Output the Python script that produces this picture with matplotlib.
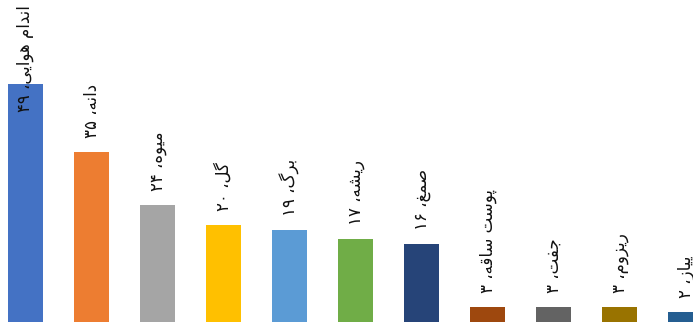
import re
import matplotlib
matplotlib.use("Agg")
import matplotlib.pyplot as plt

# plant parts and number of reports
parts = ["اندام هوایی", "دانه", "میوه", "گل", "برگ", "ریشه", "صمغ",
         "پوست ساقه", "جفت", "ریزوم", "پیاز"]
counts = [49, 35, 24, 20, 19, 17, 16, 3, 3, 3, 2]
colors = ["#4472C4", "#ED7D31", "#A5A5A5", "#FFC000", "#5B9BD5", "#70AD47",
          "#264478", "#9E480E", "#636363", "#997300", "#255E91"]

# arabic presentation forms: isolated, final, initial, medial
FORMS = {
    "ا": (0xFE8D, 0xFE8E), "د": (0xFEA9, 0xFEAA), "ر": (0xFEAD, 0xFEAE),
    "ز": (0xFEAF, 0xFEB0), "و": (0xFEED, 0xFEEE),
    "ب": (0xFE8F, 0xFE90, 0xFE91, 0xFE92), "پ": (0xFB56, 0xFB57, 0xFB58, 0xFB59),
    "ت": (0xFE95, 0xFE96, 0xFE97, 0xFE98), "ج": (0xFE9D, 0xFE9E, 0xFE9F, 0xFEA0),
    "س": (0xFEB1, 0xFEB2, 0xFEB3, 0xFEB4), "ش": (0xFEB5, 0xFEB6, 0xFEB7, 0xFEB8),
    "ص": (0xFEB9, 0xFEBA, 0xFEBB, 0xFEBC), "غ": (0xFECD, 0xFECE, 0xFECF, 0xFED0),
    "ف": (0xFED1, 0xFED2, 0xFED3, 0xFED4), "ق": (0xFED5, 0xFED6, 0xFED7, 0xFED8),
    "گ": (0xFB92, 0xFB93, 0xFB94, 0xFB95), "ل": (0xFEDD, 0xFEDE, 0xFEDF, 0xFEE0),
    "م": (0xFEE1, 0xFEE2, 0xFEE3, 0xFEE4), "ن": (0xFEE5, 0xFEE6, 0xFEE7, 0xFEE8),
    "ه": (0xFEE9, 0xFEEA, 0xFEEB, 0xFEEC), "ی": (0xFBFC, 0xFBFD, 0xFBFE, 0xFBFF),
}


def shape(s):
    out = []
    for i, c in enumerate(s):
        f = FORMS.get(c)
        if f is None:
            out.append(c)
            continue
        prev = s[i - 1] if i > 0 else ""
        nxt = s[i + 1] if i + 1 < len(s) else ""
        jp = prev in FORMS and len(FORMS[prev]) == 4
        jn = len(f) == 4 and nxt in FORMS
        if jp and jn:
            k = 3
        elif jp:
            k = 1
        elif jn:
            k = 2
        else:
            k = 0
        out.append(chr(f[k]))
    vis = "".join(out)[::-1]
    # digits keep left-to-right order
    return re.sub("[۰-۹]+", lambda m: m.group(0)[::-1], vis)


def fa_num(n):
    return str(n).translate(str.maketrans("0123456789", "۰۱۲۳۴۵۶۷۸۹"))


fig = plt.figure(figsize=(6.93, 3.22), dpi=100)
ax = fig.add_axes([0, 0, 1, 1])
ax.axis("off")

xs = range(len(parts))
ax.bar(xs, counts, width=0.53, color=colors)
ax.set_xlim(-0.386, 10.11)
ax.set_ylim(0, 66.3)

fig.canvas.draw()
renderer = fig.canvas.get_renderer()
for x, name, n in zip(xs, parts, counts):
    label = shape(name + "، " + fa_num(n))
    t = ax.annotate(label, (x, n), xytext=(0, 14), textcoords="offset pixels",
                    rotation=90, ha="center", va="bottom", fontsize=12,
                    family="DejaVu Sans", color="#111111")
    bb = t.get_window_extent(renderer)
    if bb.y1 > fig.bbox.height - 4:
        # keep tall labels inside the figure
        t.xy = (x, 66.3)
        t.xyann = (0, -5)
        t.set_va("top")

fig.savefig("out.png", dpi=100)
